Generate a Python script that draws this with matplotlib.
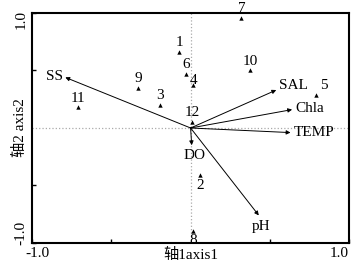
import matplotlib
matplotlib.use("Agg")
import matplotlib.pyplot as plt
from matplotlib.transforms import ScaledTranslation

sites = ["1", "2", "3", "4", "5", "6", "7", "8", "9", "10", "11", "12"]
site_x = [-0.073, 0.06, -0.19, 0.016, 0.79, -0.03, 0.32, 0.014, -0.33, 0.375, -0.71, 0.008]
site_y = [0.66, -0.41, 0.20, 0.37, 0.29, 0.47, 0.957, -0.90, 0.35, 0.50, 0.18, 0.055]

env = ["SS", "SAL", "Chla", "TEMP", "DO", "pH"]
env_x = [-0.79, 0.54, 0.64, 0.63, 0.007, 0.43]
env_y = [0.44, 0.33, 0.16, -0.04, -0.15, -0.76]

FAM = ["Liberation Serif", "Noto Sans CJK SC"]
FS = 11

fig = plt.figure(figsize=(3.58, 2.69), dpi=100)
ax = fig.add_axes([0.0894, 0.0967, 0.886, 0.855])
ax.set_xlim(-1, 1)
ax.set_ylim(-1, 1)

ax.axvline(0, color="#aaaaaa", ls=":", lw=0.9, zorder=0)
ax.axhline(0, color="#aaaaaa", ls=":", lw=0.9, zorder=0)

ax.scatter(site_x, site_y, marker="^", s=10, color="black", zorder=3, linewidths=0)

offs = {"2": (0, -3, "top"), "8": (0, -2, "top"), "5": (3, 2, "bottom"), "4": (0, -1, "bottom")}
for s, x, y in zip(sites, site_x, site_y):
    dx, dy, va = offs.get(s, (0, 2, "bottom"))
    ha = "left" if s == "5" else "center"
    ax.annotate(s, (x, y), xytext=(dx, dy), textcoords="offset points",
                ha=ha, va=va, fontsize=FS, family=FAM)

for e, x, y in zip(env, env_x, env_y):
    ax.annotate("", xy=(x, y), xytext=(0, 0),
                arrowprops=dict(arrowstyle="-|>", color="black", lw=0.7,
                                mutation_scale=6, shrinkA=0, shrinkB=0))

eoffs = {"SS": (-2, 1, "right", "center"), "SAL": (2, 3, "left", "center"),
         "Chla": (2, 1, "left", "center"), "TEMP": (2, 0, "left", "center"),
         "DO": (2, -3, "center", "top"), "pH": (2, -3, "center", "top")}
for e, x, y in zip(env, env_x, env_y):
    dx, dy, ha, va = eoffs[e]
    ax.annotate(e, (x, y), xytext=(dx, dy), textcoords="offset points",
                ha=ha, va=va, fontsize=FS, family=FAM)

ax.set_xticks([-1, -0.5, 0.5, 1])
ax.set_yticks([-1, -0.5, 0.5, 1])
ax.set_xticklabels(["-1.0", "", "", "1.0"], family=FAM, fontsize=FS)
ax.set_yticklabels(["-1.0", "", "", "1.0"], family=FAM, fontsize=FS, rotation=90, va="center")
ax.tick_params(direction="in", length=3, width=1, pad=3)
for sp in ax.spines.values():
    sp.set_linewidth(1.5)

xl = ax.get_xticklabels()
xl[0].set_transform(xl[0].get_transform() + ScaledTranslation(4 / 72, 0, fig.dpi_scale_trans))
xl[3].set_transform(xl[3].get_transform() + ScaledTranslation(-7 / 72, 0, fig.dpi_scale_trans))
yl = ax.get_yticklabels()
yl[0].set_transform(yl[0].get_transform() + ScaledTranslation(0, 7 / 72, fig.dpi_scale_trans))
yl[3].set_transform(yl[3].get_transform() + ScaledTranslation(0, -4.5 / 72, fig.dpi_scale_trans))

ax.set_xlabel("轴1axis1", family=FAM, fontsize=FS, labelpad=-9)
ax.set_ylabel("轴2 axis2", family=FAM, fontsize=FS, labelpad=-9)

fig.savefig("out.png", dpi=100)
